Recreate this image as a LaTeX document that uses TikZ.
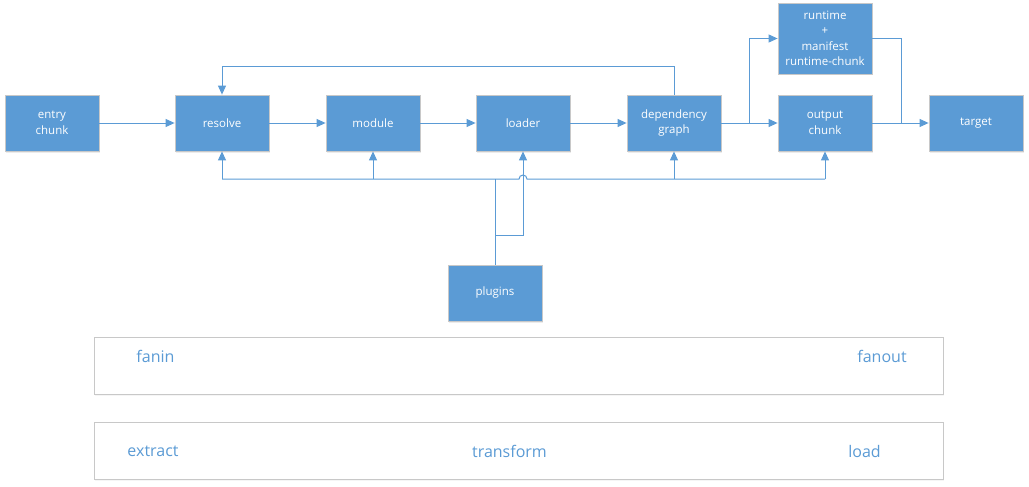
\documentclass[tikz,border=0pt]{standalone}
\usepackage{fontspec}
\setmainfont{Open Sans}
\usetikzlibrary{arrows.meta,positioning,shadows}
\definecolor{boxblue}{HTML}{5B9BD5}
\definecolor{boxedge}{HTML}{C8C8C8}
\tikzset{
    block/.style = {rectangle, fill = boxblue, draw = boxedge, line width = .8pt,
        minimum width = 94pt, minimum height = 56pt, inner sep = 2pt, align = center,
        text = white, font = \fontsize{11.5}{15.5}\selectfont,
        drop shadow = {shadow xshift = 1pt, shadow yshift = -1.5pt, opacity = .15}},
    link/.style = {draw = boxblue, line width = 1pt},
    arr/.style = {link, -{Triangle[length = 9pt, width = 8pt]}},
    band/.style = {rectangle, draw = boxedge, line width = 1pt, fill = white,
        minimum width = 849pt, minimum height = 57pt,
        drop shadow = {shadow xshift = 1pt, shadow yshift = -1.5pt, opacity = .08}},
    bandlabel/.style = {text = boxblue, font = \fontsize{16}{19}\selectfont}
}
\begin{document}
\begin{tikzpicture}[x = 1pt, y = -1pt]
    \useasboundingbox (0, 0) rectangle (1029, 487); % Поля как у образца

    % Блоки
    \node [block] (entry) at (52, 123) {entry\\chunk};
    \node [block] (resolve) at (222, 123) {resolve};
    \node [block] (module) at (373, 123) {module};
    \node [block] (loader) at (523, 123) {loader};
    \node [block] (dep) at (674, 123) {dependency\\graph};
    \node [block] (output) at (825, 123) {output\\chunk};
    \node [block] (target) at (976, 123) {target};
    \node [block, minimum height = 71pt] (runtime) at (825, 38.5) {runtime\\+\\manifest\\runtime-chunk};
    \node [block] (plugins) at (495, 293) {plugins};

    % Основная цепочка
    \draw [arr] (entry) -- (resolve);
    \draw [arr] (resolve) -- (module);
    \draw [arr] (module) -- (loader);
    \draw [arr] (loader) -- (dep);
    \draw [arr] (dep) -- (output);
    \draw [arr] (output) -- (target);

    % Обратная связь и ветка runtime
    \draw [arr] (dep.north) -- ++(0, -28) -| (resolve.north);
    \coordinate (fork) at (749, 123);
    \coordinate (merge) at (901, 123);
    \draw [arr] (fork) |- (runtime.west);
    \draw [link] (runtime.east) -| (merge);

    % Шина плагинов (с обходом-дугой у loader)
    \coordinate (bus) at (0, 179);
    \draw [link] (plugins.north) -- (plugins.north |- bus);
    \draw [link] (resolve.south |- bus) -- ([xshift = -4pt] loader.south |- bus)
        arc [start angle = 180, end angle = 360, radius = 4] -- (output.south |- bus);
    \foreach \n in {resolve, module, dep, output}
        \draw [arr] (\n.south |- bus) -- (\n.south);
    \draw [arr] ([yshift = 29pt] plugins.north) -| (loader.south);

    % Полосы внизу
    \node [band] (fanband) at (518.5, 365.5) {};
    \node [band] (etlband) at (518.5, 450.5) {};
    \node [bandlabel] (fanin) at (155.5, 356) {fanin};
    \node [bandlabel] (fanout) at (882, 356) {fanout};
    \node [bandlabel] (extract) at (153, 451) {extract};
    \node [bandlabel] (transform) at (509.5, 451) {transform};
    \node [bandlabel] (load) at (864.5, 451) {load};
\end{tikzpicture}
\end{document}
